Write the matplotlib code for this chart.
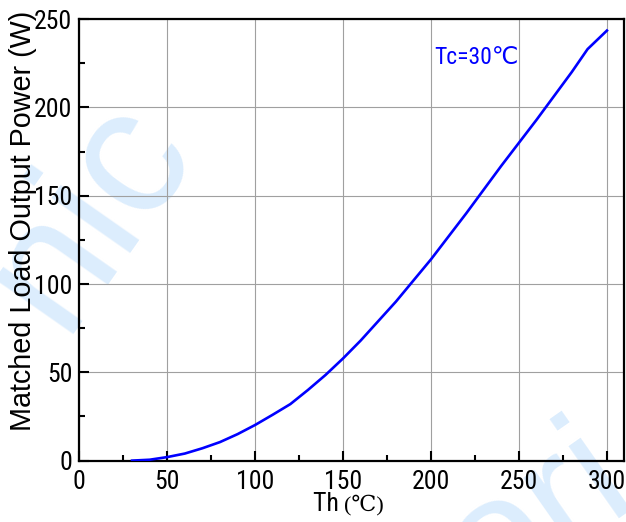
import numpy as np
import matplotlib
matplotlib.use("Agg")
import matplotlib.pyplot as plt
from matplotlib import font_manager

# data (Tc = 30 C)
th = [30, 40, 50, 60, 70, 80, 90, 100, 110, 120, 130, 140, 150, 160, 170,
      180, 190, 200, 210, 220, 230, 240, 250, 260, 270, 280, 289, 300]
power = [0, 0.5, 2, 4, 7, 10.5, 15, 20.2, 26, 32, 40, 48.5, 57.9, 68, 79,
         90, 102, 114, 127, 140, 153.5, 167, 180, 193, 206.5, 220, 233, 243.5]
xticks = [0, 50, 100, 150, 200, 250, 300]
yticks = [0, 50, 100, 150, 200, 250]

names = set(f.name for f in font_manager.fontManager.ttflist)
narrow = 'Roboto Condensed' if 'Roboto Condensed' in names else 'Liberation Sans'
fam = [narrow, 'DejaVu Sans']
wide = ['Liberation Sans', 'DejaVu Sans']

fig = plt.figure(figsize=(6.26, 5.22), dpi=100)

# watermark, kept behind the axes
fig.text(0.31, 0.72, 'nic', fontsize=130, color='#dcedfd', rotation=55,
         ha='right', va='baseline', rotation_mode='anchor', family=wide, zorder=-1)
fig.text(0.78, -0.16, 'ori', fontsize=120, color='#dcedfd', rotation=35,
         ha='left', va='baseline', rotation_mode='anchor', family=wide, zorder=-1)

ax = fig.add_axes([0.1267, 0.1176, 0.8709, 0.8458])
ax.patch.set_alpha(0)
ax.plot(th, power, color='#0000ff', lw=1.9, zorder=3)

ax.set_xlim(0, 310)
ax.set_ylim(0, 250)
ax.set_xticks(xticks)
ax.set_yticks(yticks)
ax.set_xticks(np.arange(25, 310, 50), minor=True)
ax.set_yticks(np.arange(25, 250, 50), minor=True)
ax.grid(True, which='major', color='#a0a0a0', lw=0.8)
ax.tick_params(which='major', direction='in', length=7, width=1.5)
ax.tick_params(axis='x', which='major', pad=7)
ax.tick_params(axis='y', which='major', pad=5)
ax.tick_params(which='minor', direction='in', length=4, width=1.5)
for s in ax.spines.values():
    s.set_linewidth(1.6)
for lab in ax.get_xticklabels() + ax.get_yticklabels():
    lab.set_family(fam)
    lab.set_fontsize(18.5)

ax.set_ylabel('Matched Load Output Power (W)', family=wide, fontsize=20.7)
ax.yaxis.set_label_coords(-0.078, 0.543)
fig.text(0.55, 0.022, 'Th ', family=fam, fontsize=18.5,
         ha='right', va='baseline')
fig.text(0.55, 0.022, '(\u2103)', family=['Liberation Serif', 'DejaVu Serif'],
         fontsize=16, ha='left', va='baseline')

ax.text(202, 228, 'Tc=30\u2103', color='#0000ff', family=fam,
        fontsize=17, ha='left', va='center')

fig.savefig('out.png', dpi=100)
